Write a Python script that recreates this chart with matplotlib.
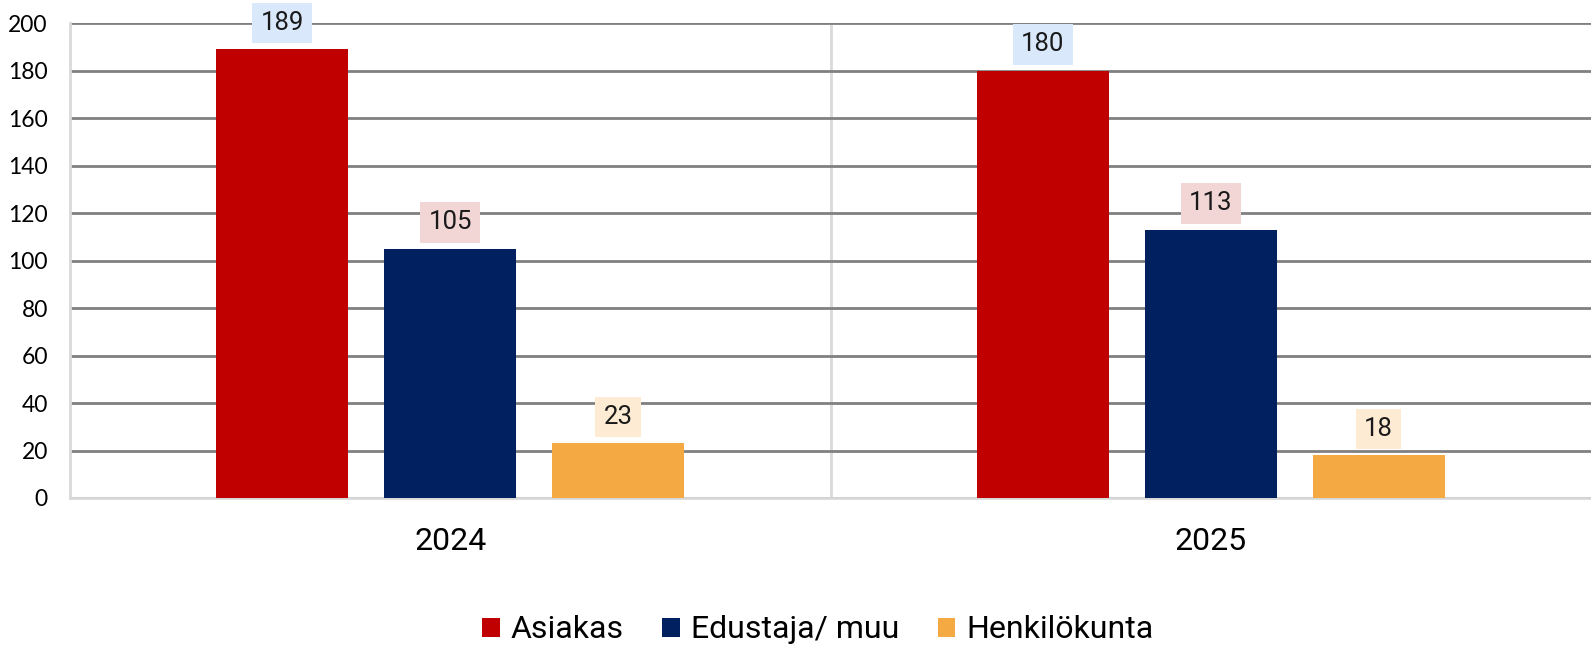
import matplotlib
matplotlib.use("Agg")
import matplotlib.pyplot as plt
import numpy as np

categories = ["2024", "2025"]
series_names = ["Asiakas", "Edustaja/ muu", "Henkilökunta"]
asiakas = [189, 180]
edustaja = [105, 113]
henkilokunta = [23, 18]
yticks = [0, 20, 40, 60, 80, 100, 120, 140, 160, 180, 200]

colors = ["#C00000", "#002060", "#F5A942"]
label_bg = ["#DAE8FC", "#F2D5D5", "#FDEBD3"]

fig = plt.figure(figsize=(15.91, 6.48), dpi=100)
ax = fig.add_axes([70/1591, 1-498/648, 1-70/1591, (498-23.3)/648])

x = np.arange(len(categories))
width = 0.1735
step = 0.2208
data = [asiakas, edustaja, henkilokunta]
for i, (vals, name) in enumerate(zip(data, series_names)):
    pos = x + (i - 1) * step
    bars = ax.bar(pos, vals, width, color=colors[i], label=name, zorder=3)
    for b, v in zip(bars, vals):
        ax.annotate(str(v), (b.get_x() + b.get_width()/2, v), xytext=(0, 19),
                    textcoords="offset points", ha="center", va="center",
                    fontsize=18.5, family="Roboto", color="#1a1a1a",
                    bbox=dict(boxstyle="square,pad=0.32", fc=label_bg[i], ec="none"),
                    zorder=5, annotation_clip=False)

ax.set_xlim(-0.5, 1.5)
ax.set_ylim(0, 200)
ax.set_yticks(yticks)
ax.set_yticklabels([str(t) for t in yticks], family="Lato", fontsize=16.5)
ax.set_xticks(x)
ax.set_xticklabels(categories, family="Roboto", fontsize=23)
ax.tick_params(axis="y", length=0, pad=16)
ax.tick_params(axis="x", length=0, pad=21)
ax.yaxis.grid(True, color="#808080", linewidth=2, zorder=1)
ax.axvline(0.5, color="#d9d9d9", linewidth=2, zorder=1)
for s in ["top", "right"]:
    ax.spines[s].set_visible(False)
for s in ["left", "bottom"]:
    ax.spines[s].set_color("#d9d9d9")
    ax.spines[s].set_linewidth(2)

fig.legend(loc="center", bbox_to_anchor=(818/1591, 1-630/648), ncol=3, frameon=False,
           prop=dict(family="Roboto", size=23), handlelength=0.55, handleheight=0.55,
           handletextpad=0.35, columnspacing=1.2)

fig.savefig("out.png", dpi=100)
